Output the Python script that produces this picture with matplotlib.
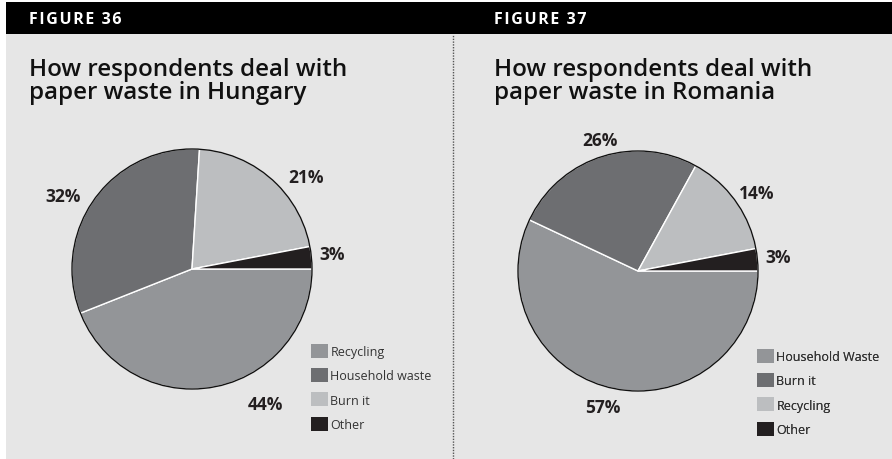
import matplotlib
matplotlib.use("Agg")
import matplotlib.pyplot as plt
from matplotlib.patches import Rectangle, Circle

# survey results, listed in legend order
hu_labels = ["Recycling", "Household waste", "Burn it", "Other"]
hu_values = [44, 32, 21, 3]
ro_labels = ["Household Waste", "Burn it", "Recycling", "Other"]
ro_values = [57, 26, 14, 3]

colors = ["#939598", "#6d6e71", "#bcbec0", "#231f20"]

# label offsets from the pie centre, in pixels
hu_label_offsets = [(73, -135), (-129, 73), (114, 92), (140, 15)]
ro_label_offsets = [(-35, -136), (-38, 131), (119, 78), (140, 14)]

W, H = 892, 460
BG = "#e6e6e6"
FONT = "Open Sans"

fig = plt.figure(figsize=(W / 100, H / 100), dpi=100)
ax = fig.add_axes([0, 0, 1, 1])
ax.set_xlim(0, W)
ax.set_ylim(0, H)
ax.axis("off")

# panel background and header strip
ax.add_patch(Rectangle((6, 0), W - 6, H - 35, facecolor=BG, edgecolor="none", zorder=0))
ax.add_patch(Rectangle((6, H - 35), W - 6, 32, facecolor="black", edgecolor="none", zorder=0))
ax.plot([453, 453], [0, H - 35], color="#555555", lw=1, ls=(0, (1, 1)), zorder=1)


def spaced(s):
    # tracked-out header lettering
    return "\u200a".join(s)


def panel(x0, cx, cy, fig_no, title, labels, values, offsets, leg_xy):
    ax.text(x0, H - 20, spaced(f"FIGURE {fig_no}"), color="white", fontsize=11.5,
            fontweight="bold", family=[FONT, "DejaVu Sans"], va="center", ha="left")
    ax.text(x0, H - 58, title, color="#111111", fontsize=17.4, fontweight="semibold",
            family=FONT, va="top", ha="left", linespacing=0.95)

    r = 120
    wedges, _ = ax.pie(values, colors=colors, startangle=0, counterclock=False,
                       center=(cx, cy), radius=r,
                       wedgeprops=dict(edgecolor="white", linewidth=1))
    for w in wedges:
        w.set_zorder(2)
    ax.add_patch(Circle((cx, cy), r, fill=False, edgecolor="#111111", lw=1, zorder=3))

    for v, (dx, dy) in zip(values, offsets):
        ax.text(cx + dx, cy + dy, f"{v}%", ha="center", va="center",
                fontsize=12.5, fontweight="bold", family=FONT, color="#231f20")

    handles = [Rectangle((0, 0), 1, 1, facecolor=c, edgecolor="none") for c in colors]
    leg = ax.legend(handles, labels, loc="upper left", bbox_to_anchor=leg_xy,
                    bbox_transform=ax.transData, frameon=False, borderpad=0,
                    borderaxespad=0, handlelength=1.35, handleheight=1.35,
                    handletextpad=0.2, labelspacing=0.8,
                    prop=dict(family=FONT, size=9))
    for t in leg.get_texts():
        t.set_color("#333333")
    ax.add_artist(leg)


panel(29, 192, H - 270, 36, "How respondents deal with\npaper waste in Hungary",
      hu_labels, hu_values, hu_label_offsets, (311, H - 345))
panel(494, 638, H - 272, 37, "How respondents deal with\npaper waste in Romania",
      ro_labels, ro_values, ro_label_offsets, (757, H - 350))

ax.set_xlim(0, W)
ax.set_ylim(0, H)
ax.set_aspect("auto")

fig.savefig("out.png", dpi=100, facecolor="white")
